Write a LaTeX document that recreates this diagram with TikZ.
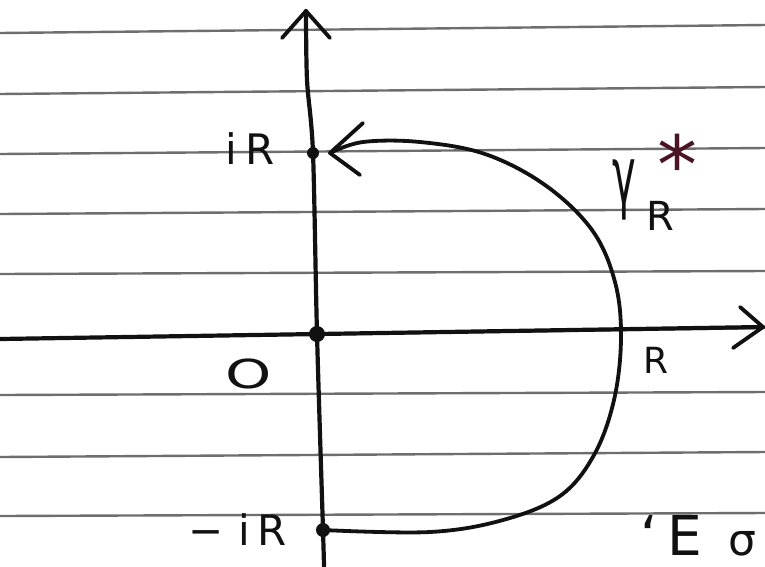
\documentclass[tikz,border=0pt]{standalone}
\usepackage{fontspec}
\setmainfont{DejaVu Sans}
\definecolor{ink}{HTML}{111111}
\definecolor{rulegray}{HTML}{6E6E6E}
\definecolor{starred}{HTML}{4A1424}
\begin{document}
\begin{tikzpicture}[x=1pt,y=-1pt,line cap=round,line join=round]
\tikzset{
  ruleline/.style={draw=rulegray,line width=2.4pt},
  axisline/.style={draw=ink,line width=4.2pt},
  pathline/.style={draw=ink,line width=3.8pt},
  tipline/.style={draw=ink,line width=3.8pt},
  lab/.style={inner sep=0pt,text=ink,font=\fontsize{42}{42}\selectfont},
}
\useasboundingbox (0,0) rectangle (765,566);
\fill[white] (0,0) rectangle (765,566);
% ruled paper
\foreach \a/\b in {33/25,94/87,154/148,214/209,274/271,339/328,395/392,457/452,516/513}
  \draw[ruleline] (0,\a) -- (765,\b);
% key points
\coordinate (O) at (317,334);
\coordinate (P) at (313,153);
\coordinate (M) at (323,530);
% horizontal axis
\coordinate (xs) at (0,339);
\coordinate (xe) at (763,327);
\coordinate (xa1) at (740,307);
\coordinate (xa2) at (733,348);
\draw[axisline] (xs) -- (xe);
\draw[tipline] (xa1) -- (xe) -- (xa2);
% vertical axis
\coordinate (ys) at (324,566);
\coordinate (ym) at (307,80);
\coordinate (yt) at (306,11);
\coordinate (ya1) at (282,38);
\coordinate (ya2) at (330,38);
\draw[axisline] plot[smooth,tension=0.5] coordinates {(ys) (M) (O) (P) (ym) (yt)};
\draw[tipline] (ya1) -- (yt) -- (ya2);
% contour gamma_R^*
\coordinate (ct) at (330,153);
\coordinate (ca1) at (363,123);
\coordinate (ca2) at (360,175);
\draw[pathline] plot[smooth,tension=0.6] coordinates {(M) (430,532) (503,520) (560,496) (594,455) (614,400) (621,338) (615,282) (592,230) (545,185) (485,154) (420,142) (363,142) (ct)};
\draw[tipline] (ca1) -- (ct) -- (ca2);
% dots
\fill[ink] (O) circle[radius=8pt];
\fill[ink] (P) circle[radius=6pt];
\fill[ink] (M) circle[radius=7pt];
% labels
\node[lab,anchor=base] (liR) at (250,164) {i\kern8pt R};
\node[lab,anchor=base] (lmiR) at (238,545) {−\kern14pt i\kern8pt R};
\node[lab] (lO) at (249,374) {\scalebox{1.4}[0.95]{O}};
\node[lab,anchor=base,font=\fontsize{36}{36}\selectfont] (lR) at (656,373) {R};
\node[lab,anchor=base,font=\fontsize{50}{50}\selectfont] (lgam) at (624,203) {\scalebox{0.8}[1.6]{γ}};
\node[lab,anchor=base,font=\fontsize{40}{40}\selectfont] (lsub) at (660,230) {R};
\node[lab,anchor=base,text=starred,font=\fontsize{80}{80}\selectfont] (lstar) at (677,193) {*};
\node[lab,anchor=base west,font=\fontsize{55}{55}\selectfont] (lE) at (640,555) {‘\kern10pt E\kern26pt{\fontsize{44}{44}\selectfont σ}};
\end{tikzpicture}
\end{document}
